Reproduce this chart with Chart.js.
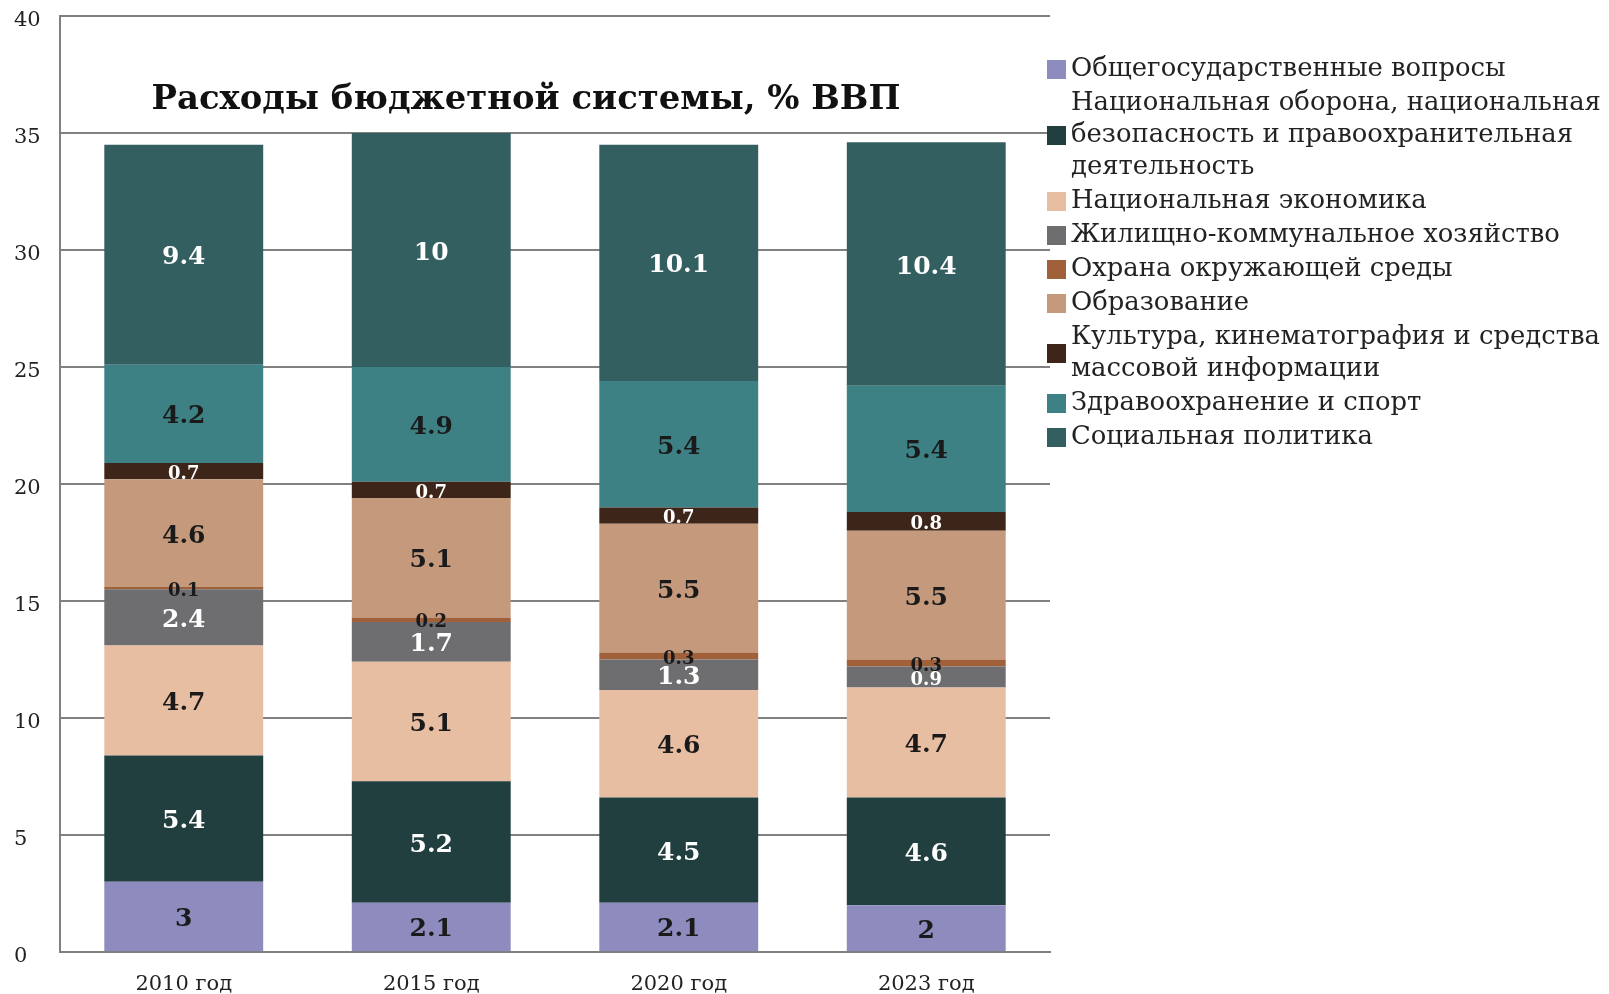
<!DOCTYPE html>
<html><head><meta charset="utf-8">
<script src="https://cdn.jsdelivr.net/npm/chart.js@4.4.1/dist/chart.umd.min.js"></script>
<style>html,body{margin:0;padding:0;background:#fff;}#wrap{width:1609px;height:994px;position:relative;}</style>
</head><body><div id="wrap"><canvas id="c" width="1609" height="994"></canvas></div>
<script>
const categories = ['2010 год', '2015 год', '2020 год', '2023 год'];
const seriesNames = [
  'Общегосударственные вопросы',
  'Национальная оборона, национальная безопасность и правоохранительная деятельность',
  'Национальная экономика',
  'Жилищно-коммунальное хозяйство',
  'Охрана окружающей среды',
  'Образование',
  'Культура, кинематография и средства массовой информации',
  'Здравоохранение и спорт',
  'Социальная политика'
];
const general = [3, 2.1, 2.1, 2];
const defense = [5.4, 5.2, 4.5, 4.6];
const economy = [4.7, 5.1, 4.6, 4.7];
const housing = [2.4, 1.7, 1.3, 0.9];
const environment = [0.1, 0.2, 0.3, 0.3];
const education = [4.6, 5.1, 5.5, 5.5];
const culture = [0.7, 0.7, 0.7, 0.8];
const health = [4.2, 4.9, 5.4, 5.4];
const social = [9.4, 10, 10.1, 10.4];
const yTicks = [0, 5, 10, 15, 20, 25, 30, 35, 40];
const chartTitle = 'Расходы бюджетной системы, % ВВП';

const seriesValues = [general, defense, economy, housing, environment, education, culture, health, social];
const seriesColors = ['#8E8BBF', '#223F40', '#E8BEA2', '#6E6E70', '#A0603A', '#C59A7C', '#3D2619', '#3E8185', '#335F61'];
const labelColors = ['#1a1a1a', '#ffffff', '#1a1a1a', '#ffffff', '#1a1a1a', '#1a1a1a', '#ffffff', '#1a1a1a', '#ffffff'];

const SERIF = '"DejaVu Serif", "Liberation Serif", serif';

function fitSize(ctx, text, weight, target) {
  ctx.font = weight + ' 100px ' + SERIF;
  const w = ctx.measureText(text).width;
  return 100 * target / w;
}

const measureCtx = document.createElement('canvas').getContext('2d');
const titleSize = fitSize(measureCtx, chartTitle, 'bold', 749);
const legendSize = fitSize(measureCtx, 'Национальная оборона, национальная', 'normal', 530);

const labelPlugin = {
  id: 'segLabels',
  afterDatasetsDraw(chart) {
    const ctx = chart.ctx;
    ctx.save();
    ctx.textAlign = 'center';
    ctx.textBaseline = 'middle';
    chart.data.datasets.forEach((ds, di) => {
      const meta = chart.getDatasetMeta(di);
      meta.data.forEach((el, i) => {
        const v = ds.data[i];
        const p = el.getProps(['x', 'y', 'base'], true);
        const cy = (p.y + p.base) / 2;
        ctx.font = 'bold ' + (v < 1 ? 18 : 25) + 'px ' + SERIF;
        ctx.fillStyle = labelColors[di];
        ctx.fillText(String(v), p.x, cy + 3);
      });
    });
    ctx.restore();
  }
};

const titlePlugin = {
  id: 'innerTitle',
  afterDraw(chart) {
    const ctx = chart.ctx;
    ctx.save();
    ctx.font = 'bold ' + titleSize.toFixed(2) + 'px ' + SERIF;
    ctx.fillStyle = '#111';
    ctx.textAlign = 'center';
    ctx.textBaseline = 'middle';
    ctx.fillText(chartTitle, 526, 100);
    ctx.restore();
  }
};

function wrap(ctx, text, maxW) {
  const words = text.split(' ');
  const lines = [];
  let cur = '';
  words.forEach(w => {
    const t = cur ? cur + ' ' + w : w;
    if (ctx.measureText(t).width > maxW && cur) { lines.push(cur); cur = w; }
    else cur = t;
  });
  if (cur) lines.push(cur);
  return lines;
}

const legendPlugin = {
  id: 'sideLegend',
  afterDraw(chart) {
    const ctx = chart.ctx;
    ctx.save();
    ctx.font = legendSize.toFixed(2) + 'px ' + SERIF;
    ctx.textAlign = 'left';
    ctx.textBaseline = 'middle';
    const lineH = 32, gap = 2, box = 19, boxX = 1047, textX = 1071;
    let y = 69.5;
    chart.data.datasets.forEach((ds, di) => {
      const lines = wrap(ctx, ds.label, 536);
      const mid = y + (lines.length - 1) * lineH / 2;
      ctx.fillStyle = ds.backgroundColor;
      ctx.fillRect(boxX, mid - box / 2, box, box);
      ctx.fillStyle = '#222';
      lines.forEach((ln, k) => ctx.fillText(ln, textX, y + k * lineH));
      y += lines.length * lineH + gap;
    });
    ctx.restore();
  }
};

new Chart(document.getElementById('c'), {
  type: 'bar',
  data: {
    labels: categories,
    datasets: seriesNames.map((name, i) => ({
      label: name,
      data: seriesValues[i],
      backgroundColor: seriesColors[i],
      borderWidth: 0,
      categoryPercentage: 1,
      barPercentage: 0.642
    }))
  },
  options: {
    responsive: false,
    animation: false,
    devicePixelRatio: 1,
    layout: { padding: { left: 14, top: 16, right: 559, bottom: 0 } },
    plugins: { legend: { display: false }, title: { display: false }, tooltip: { enabled: false } },
    scales: {
      x: {
        stacked: true,
        grid: { display: false, drawTicks: false },
        border: { display: true, color: '#808080', width: 2 },
        ticks: { color: '#222', padding: 20, font: { family: SERIF, size: 21 } },
        afterFit(s) { s.height = 42; }
      },
      y: {
        stacked: true,
        min: 0, max: 40,
        afterBuildTicks(s) { s.ticks = yTicks.map(v => ({ value: v })); },
        grid: { color: '#808080', lineWidth: 2, drawTicks: false },
        border: { display: true, color: '#808080', width: 2 },
        ticks: { color: '#222', crossAlign: 'far', padding: 0, labelOffset: 5, font: { family: SERIF, size: 21 }, callback: v => String(v) },
        afterFit(s) { s.width = 46; }
      }
    }
  },
  plugins: [labelPlugin, titlePlugin, legendPlugin]
});
</script></body></html>
